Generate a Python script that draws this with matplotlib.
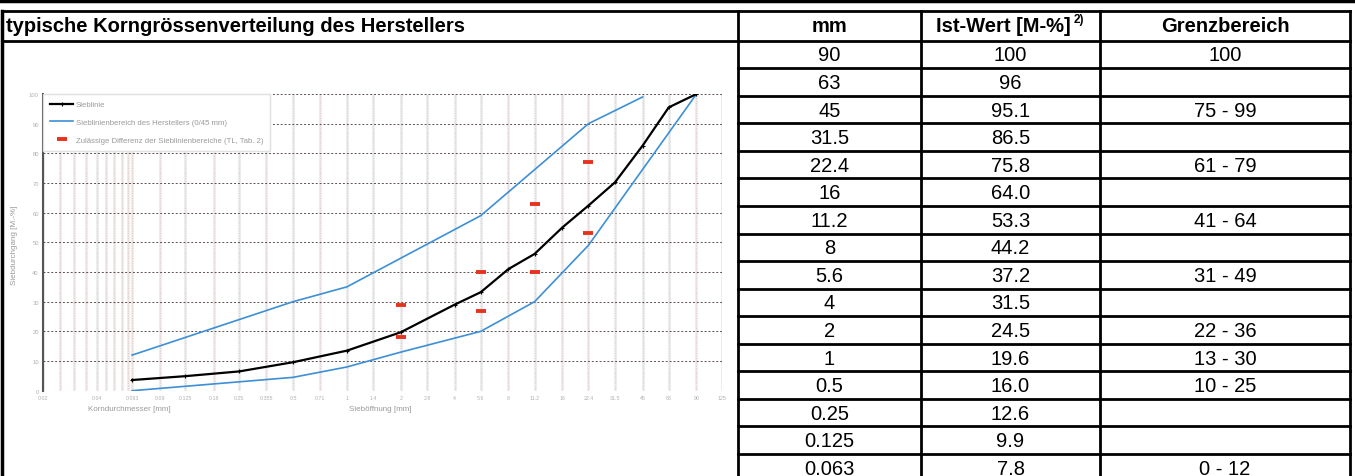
import numpy as np
import matplotlib.pyplot as plt
from matplotlib.ticker import NullLocator

plt.rcParams['font.family'] = ['Liberation Sans', 'DejaVu Sans']

# --- Tabelle ---
titel = "typische Korngrössenverteilung des Herstellers"
kopf = ["mm", "Ist-Wert [M-%]", "Grenzbereich"]
sieb_mm = ["90", "63", "45", "31.5", "22.4", "16", "11.2", "8", "5.6", "4",
           "2", "1", "0.5", "0.25", "0.125", "0.063"]
ist_wert = ["100", "96", "95.1", "86.5", "75.8", "64.0", "53.3", "44.2", "37.2",
            "31.5", "24.5", "19.6", "16.0", "12.6", "9.9", "7.8"]
grenzbereich = ["100", "", "75 - 99", "", "61 - 79", "", "41 - 64", "", "31 - 49",
                "", "22 - 36", "13 - 30", "10 - 25", "", "", "0 - 12"]

# --- Diagramm ---
d_linie = [0.063, 0.125, 0.25, 0.5, 1, 2, 4, 5.6, 8, 11.2, 16, 22.4, 31.5, 45, 63, 90]
p_linie = [3.6, 4.9, 6.5, 9.6, 13.5, 19.7, 29, 33.2, 41, 46.1, 55, 62.4, 70.2, 82.6, 95.5, 100]
d_oben = [0.063, 0.5, 1, 5.6, 22.4, 45]
p_oben = [12, 30, 35, 59, 90, 99]
d_unten = [0.063, 0.5, 1, 2, 5.6, 11.2, 22.4, 90]
p_unten = [0, 4.5, 8, 13, 20, 30, 49, 100]
d_rot = [2, 5.6, 11.2, 22.4]
p_rot_min = [18, 27, 40, 53]
p_rot_max = [29, 40, 63, 77]

x_ticks = [0.02, 0.04, 0.063, 0.09, 0.125, 0.18, 0.25, 0.355, 0.5, 0.71, 1, 1.4, 2,
           2.8, 4, 5.6, 8, 11.2, 16, 22.4, 31.5, 45, 63, 90, 125]
x_dicht = [0.025, 0.03, 0.035, 0.045, 0.05, 0.055, 0.06]
legende = ["Sieblinie",
           "Sieblinienbereich des Herstellers (0/45 mm)",
           "Zulässige Differenz der Sieblinienbereiche (TL, Tab. 2)"]

W, H = 1355, 477
fig = plt.figure(figsize=(W / 100, H / 100), dpi=100)

# Hintergrund in Pixelkoordinaten
bg = fig.add_axes([0, 0, 1, 1])
bg.set_xlim(0, W)
bg.set_ylim(H, 0)
bg.axis('off')

lw_t = 2.0
# Rest der vorherigen Zeile
bg.plot([0, W], [2, 2], color='k', lw=2.5)
for x in [2, 415, 573, 739, 981, 1350]:
    bg.plot([x, x], [0, 2], color='k', lw=lw_t)

# Rahmen
x_spalten = [738, 921, 1100, 1350]
y_kopf = 12
h_zeile = 27.55
y0 = 41.7
bg.plot([2, 1350], [y_kopf, y_kopf], color='k', lw=lw_t)
bg.plot([2, 1350], [y0, y0], color='k', lw=lw_t)
bg.plot([2, 2], [y_kopf, H], color='k', lw=2.5)
for x in x_spalten:
    bg.plot([x, x], [y_kopf, H], color='k', lw=lw_t)
for i in range(1, len(sieb_mm)):
    y = y0 + i * h_zeile
    bg.plot([x_spalten[0], x_spalten[-1]], [y, y], color='k', lw=lw_t)

fs = 14.5
bg.text(6, 27, titel, fontsize=fs, fontweight='bold', va='center', ha='left')
mitten = [(x_spalten[i] + x_spalten[i + 1]) / 2 for i in range(3)]
bg.text(mitten[0], 27, kopf[0], fontsize=fs, fontweight='bold', ha='center', va='center')
bg.text(mitten[1] - 7, 27, kopf[1], fontsize=fs, fontweight='bold', ha='center', va='center')
bg.text(1074, 20, "2)", fontsize=8.5, fontweight='bold', ha='left', va='center')
bg.text(mitten[2], 27, kopf[2], fontsize=fs, fontweight='bold', ha='center', va='center')
for i in range(len(sieb_mm)):
    yc = y0 + (i + 0.5) * h_zeile + 0.5
    for j, spalte in enumerate([sieb_mm, ist_wert, grenzbereich]):
        if spalte[i]:
            bg.text(mitten[j], yc, spalte[i], fontsize=fs, ha='center', va='center')

# Achsenbeschriftungen (klein, grau)
grau = '#9a9a9a'
bg.text(88, 410, "Korndurchmesser [mm]", fontsize=5.8, color=grau, va='center')
bg.text(349, 410, "Sieböffnung [mm]", fontsize=5.8, color=grau, va='center')
bg.text(14, 245, "Siebdurchgang [M.-%]", fontsize=5.8, color=grau, rotation=90,
        ha='center', va='center')

# Diagramm
ax = fig.add_axes([43 / W, 1 - 391.7 / H, 679 / W, 296.7 / H])
ax.set_xscale('log')
ax.set_xlim(0.02, 125)
ax.set_ylim(0, 100)
for s in ['top', 'right', 'bottom']:
    ax.spines[s].set_visible(False)
ax.spines['left'].set_color('#555555')
ax.spines['left'].set_linewidth(1.5)

for x in x_ticks + x_dicht:
    ax.axvline(x, color='#ededed', lw=2.2, zorder=0)
    ax.axvline(x, color='#e2bcbc', lw=0.6, ls=(0, (1, 2)), zorder=0.5)
for y in range(0, 101, 10):
    ax.axhline(y, color='#5e5050', lw=0.7, ls=(0, (2, 2)), zorder=0.6)

ax.xaxis.set_minor_locator(NullLocator())
ax.set_xticks(x_ticks)
ax.set_xticklabels([str(v) for v in x_ticks], fontsize=3.8, color='#b0b0b0')
ax.set_yticks(range(0, 101, 10))
ax.set_yticklabels([str(v) for v in range(0, 101, 10)], fontsize=4.2, color='#b0b0b0')
ax.tick_params(length=0, pad=3)

ax.plot(d_linie, p_linie, color='k', lw=1.6, marker='+', ms=3, mew=0.8,
        label=legende[0], zorder=3)
ax.plot(d_oben, p_oben, color='#3d8fd6', lw=1.2, label=legende[1], zorder=2)
ax.plot(d_unten, p_unten, color='#3d8fd6', lw=1.2, zorder=2)
ax.plot(d_rot, p_rot_min, ls='none', marker='_', ms=6.5, mew=2.8, color='#e8321e',
        label=legende[2], zorder=4)
ax.plot(d_rot, p_rot_max, ls='none', marker='_', ms=6.5, mew=2.8, color='#e8321e', zorder=4)

leg = ax.legend(loc='upper left', bbox_to_anchor=(0, 1), fontsize=5.6, frameon=True,
                edgecolor='#e0e0e0', framealpha=1, fancybox=False, labelspacing=1.3,
                handlelength=3, handletextpad=0.3, borderaxespad=0, borderpad=0.9)
for t in leg.get_texts():
    t.set_color(grau)

plt.savefig("out.png", dpi=100)
